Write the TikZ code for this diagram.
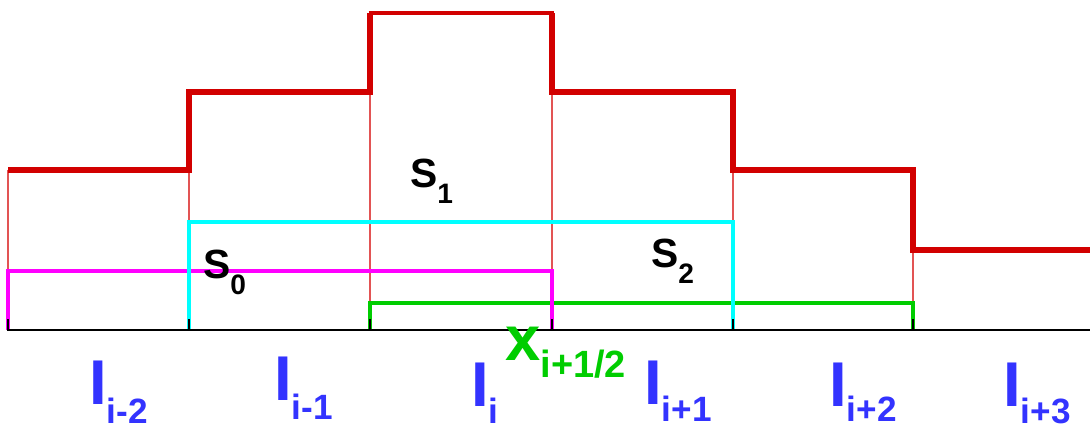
\documentclass[tikz,border=0pt]{standalone}
\usepackage{fontspec}
\setmainfont{Liberation Sans}
\usepackage{xcolor}
\usepackage{tikz}

\definecolor{stepred}{RGB}{210,0,0}
\definecolor{thinred}{RGB}{226,84,84}
\definecolor{cellblue}{RGB}{51,51,255}
\definecolor{facegreen}{RGB}{0,205,0}
\definecolor{stcyan}{RGB}{0,255,255}
\definecolor{stmagenta}{RGB}{255,0,255}

% label with a lowered index
\newcommand{\lowsub}[3]{\raisebox{-#1}{\fontsize{#2}{#2}\selectfont #3}}

\begin{document}
\begin{tikzpicture}[
        x=0.025cm, y=-0.025cm,
        steps/.style={draw=stepred, line width=4.2pt},
        cellwall/.style={draw=thinred, line width=1.3pt},
        stencil/.style={line width=2.8pt},
        axis/.style={draw=black, line width=1.4pt},
        celllab/.style={anchor=base west, inner sep=0pt, text=cellblue, font=\fontsize{45}{45}\selectfont\bfseries},
        stlab/.style={anchor=base west, inner sep=0pt, font=\fontsize{29}{29}\selectfont\bfseries}
    ]
        \useasboundingbox (0,0) rectangle (1090,430);

        % cell walls under the steps
        \draw[cellwall] (8,170) -- (8,330);
        \draw[cellwall] (189,92) -- (189,330);
        \draw[cellwall] (370,92) -- (370,330);
        \draw[cellwall] (552,92) -- (552,330);
        \draw[cellwall] (733,170) -- (733,330);
        \draw[cellwall] (913,250) -- (913,330);

        % piecewise constant data
        \draw[steps] (8,170) -- (189,170) -- (189,92) -- (370,92) -- (370,13);
        \draw[draw=stepred, line width=2.5pt] (368.5,13) -- (553.5,13);
        \draw[steps] (552,13) -- (552,92) -- (733,92) -- (733,170) -- (913,170) -- (913,250) -- (1090,250);

        % stencils
        \draw[stencil, facegreen] (370,330) -- (370,303) -- (913,303) -- (913,330);
        \draw[stencil, stmagenta] (8,330) -- (8,271) -- (552,271) -- (552,330);
        \draw[stencil, stcyan] (189,330) -- (189,222) -- (733,222) -- (733,330);

        % axis with ticks
        \draw[axis] (7,330) -- (1090,330);
        \foreach \xt in {8,189,370,552,733,913}
            \draw[axis] (\xt,319) -- (\xt,330);

        \node[stlab] (s1) at (410,187) {S\lowsub{0.4cm}{20}{1}};
        \node[stlab] (s0) at (203,278) {S\lowsub{0.42cm}{20}{0}};
        \node[stlab] (s2) at (651,267) {S\lowsub{0.4cm}{20}{2}};

        \node[anchor=base west, inner sep=0pt, text=facegreen, font=\fontsize{45}{45}\selectfont\bfseries] (xhalf) at (505,360) {x\lowsub{0.43cm}{27}{i+1/2}};

        \node[celllab] (im2) at (89,404) {I\lowsub{0.48cm}{25}{i-2}};
        \node[celllab] (im1) at (274,400) {I\lowsub{0.48cm}{25}{i-1}};
        \node[celllab] (i0) at (471,406) {I\lowsub{0.43cm}{25}{i}};
        \node[celllab] (ip1) at (644,404) {I\lowsub{0.43cm}{25}{i+1}};
        \node[celllab] (ip2) at (829,406) {I\lowsub{0.38cm}{25}{i+2}};
        \node[celllab] (ip3) at (1003,406) {I\lowsub{0.43cm}{25}{i+3}};
    \end{tikzpicture}
\end{document}
